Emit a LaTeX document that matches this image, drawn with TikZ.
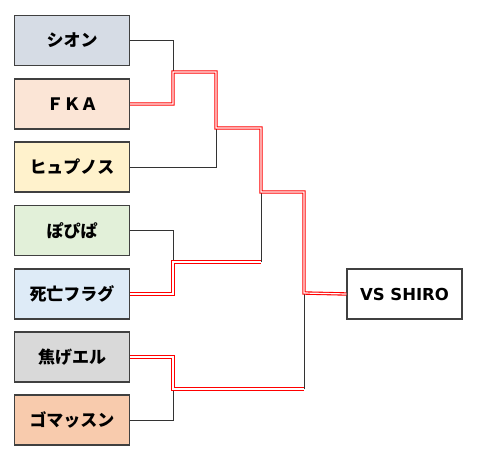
\documentclass[tikz,border=0pt]{standalone}
\usepackage{fontspec}
\setmainfont{Noto Sans CJK JP}
\newfontfamily\latinfont{DejaVu Sans}
\definecolor{cA}{HTML}{D6DCE5}
\definecolor{cB}{HTML}{FBE5D6}
\definecolor{cC}{HTML}{FFF2CC}
\definecolor{cD}{HTML}{E2F0D9}
\definecolor{cE}{HTML}{DEEBF7}
\definecolor{cF}{HTML}{D9D9D9}
\definecolor{cG}{HTML}{F8CBAD}
\definecolor{edge}{HTML}{404040}
\tikzset{
  team/.style={draw=edge, line width=1.4pt, minimum width=115pt, minimum height=50pt, inner sep=0pt,
    font=\fontsize{17pt}{20pt}\selectfont\bfseries},
  final/.style={draw=edge, line width=1.4pt, fill=white, minimum width=115pt, minimum height=50pt, inner sep=0pt,
    font=\fontsize{16.5pt}{20pt}\selectfont\latinfont\bfseries},
  lose/.style={draw=black!80, line width=1pt},
  win/.style={draw=red, line width=3.4pt, line join=miter, postaction={draw=white, line width=1.2pt}},
}
\begin{document}
\begin{tikzpicture}[x=1pt,y=-1pt]
\useasboundingbox (0,0) rectangle (480,459);
\node[team, fill=cA] (a) at (72,40.5) {シオン};
\node[team, fill=cB] (b) at (72,104) {ＦＫＡ};
\node[team, fill=cC] (c) at (72,167) {ヒュプノス};
\node[team, fill=cD] (d) at (72,230.5) {ぽぴぱ};
\node[team, fill=cE] (e) at (72,294) {死亡フラグ};
\node[team, fill=cF] (f) at (72,357) {焦げエル};
\node[team, fill=cG] (g) at (72,420) {ゴマッスン};
\node[final] (v) at (404.5,294) {VS SHIRO};
\coordinate (j1) at (173,72);
\coordinate (j2) at (216,128);
\coordinate (j3) at (173,262);
\coordinate (j4) at (261,192);
\coordinate (k3) at (261,262);
\coordinate (j5) at (173,389);
\coordinate (k5) at (304,389);
\coordinate (j6) at (304,293);
% losing branches
\draw[lose] (a.east) -| (j1);
\draw[lose] (c.east) -| (j2);
\draw[lose] (d.east) -| (j3);
\draw[lose] (k3) -- (j4);
\draw[lose] (g.east) -| (j5);
\draw[lose] (k5) -- (j6);
% winning branches
\draw[win] (e.east) -| (j3) -- (k3);
\draw[win] (f.east) -| (j5) -- (k5);
\draw[win] (b.east) -| (j1) -| (j2) -| (j4) -| (j6) -- (v.west);
\end{tikzpicture}
\end{document}
